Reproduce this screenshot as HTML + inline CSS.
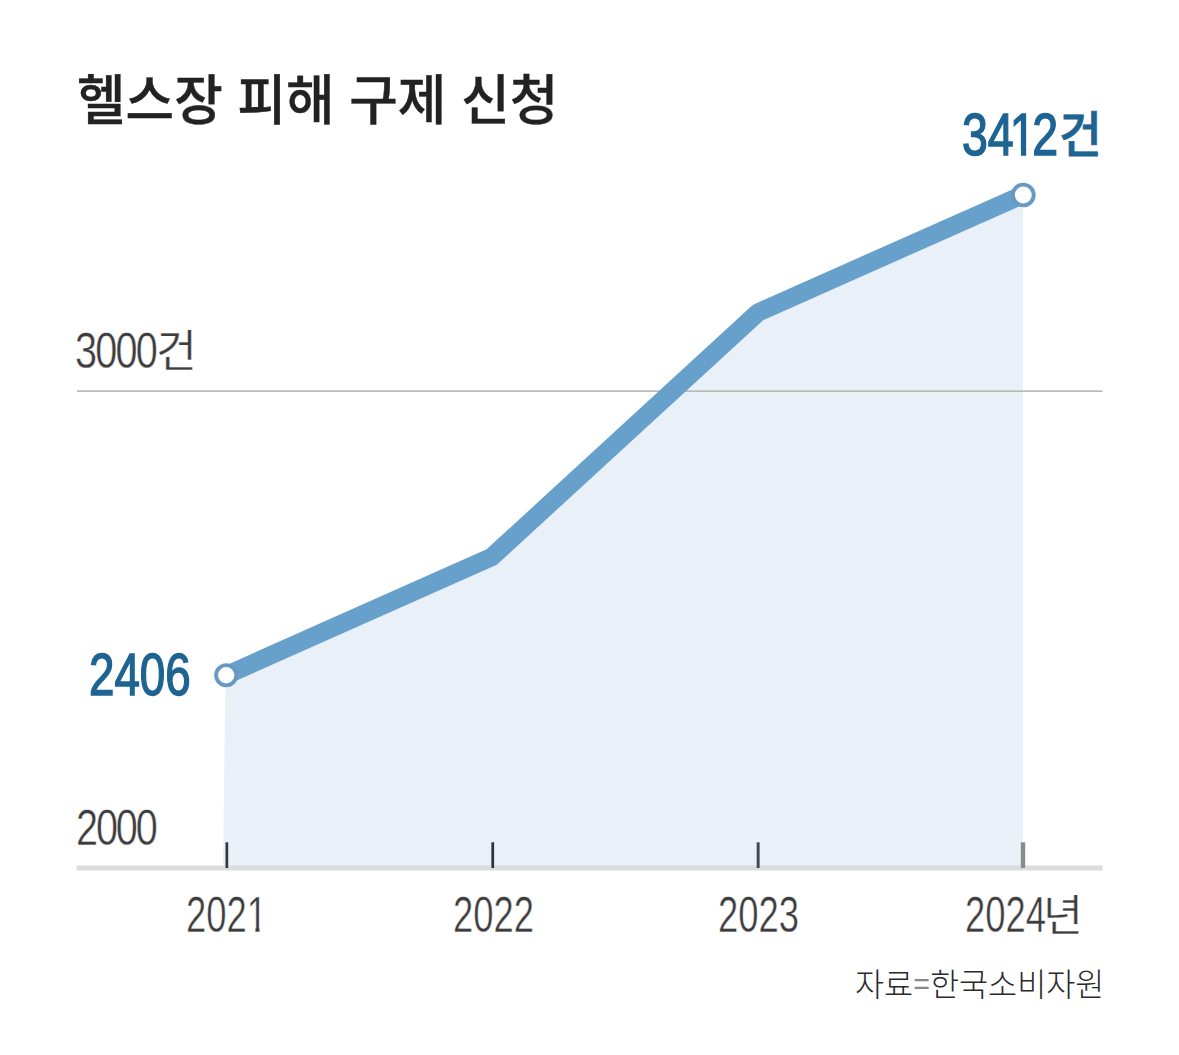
<!DOCTYPE html>
<html lang="ko">
<head>
<meta charset="utf-8">
<title>헬스장 피해 구제 신청</title>
<style>
  html, body { margin: 0; padding: 0; background: #ffffff; }
  body { width: 1179px; height: 1055px; position: relative; overflow: hidden; }
  .t { position: absolute; white-space: nowrap; line-height: 1; transform-origin: 0 0; }
  .num { font-family: "Liberation Sans", "Noto Sans CJK KR", sans-serif; }
  .kr { font-family: "Liberation Sans", "Noto Sans CJK KR", sans-serif; }
  svg { position: absolute; left: 0; top: 0; }
  .one { display: inline-block; line-height: 1; clip-path: polygon(0 0, 0.6em 0, 0.6em 0.745em, 0.35em 0.745em, 0.35em 1.1em, 0.24em 1.1em, 0.24em 0.745em, 0 0.745em); }
</style>
</head>
<body>
<svg width="1179" height="1055" viewBox="0 0 1179 1055">
  <!-- area fill -->
  <polygon points="225.5,675.5 492,556.8 758,312.5 1023,194.7 1023,868 223,868" fill="#e9f0f8"/>
  <!-- 3000 gridline -->
  <rect x="77" y="390.3" width="1025.5" height="1.7" fill="#b9babc"/>
  <!-- x axis -->
  <rect x="76.5" y="865.5" width="1026" height="5" fill="#dbdcde"/>
  <!-- ticks -->
  <rect x="225.5" y="842.3" width="2.7" height="25.7" fill="#35373b"/>
  <rect x="491.4" y="842.3" width="2.7" height="25.7" fill="#2e3136"/>
  <rect x="756.7" y="842.3" width="2.9" height="25.7" fill="#45474b"/>
  <rect x="1020.8" y="842.3" width="4.4" height="25.7" fill="#8a8b8d"/>
  <!-- line -->
  <polyline points="225.5,675.5 492,556.8 758,312.5 1023,194.7" fill="none" stroke="#68a0cc" stroke-width="18.3" stroke-linejoin="round" stroke-linecap="butt"/>
  <!-- end markers -->
  <circle cx="226.2" cy="675.2" r="10.1" fill="#ffffff" stroke="#6699c4" stroke-width="3.8"/>
  <circle cx="1023.3" cy="195" r="10.4" fill="#ffffff" stroke="#6699c4" stroke-width="3.9"/>
</svg>

<div id="title" class="t kr" style="left:77px;top:74px;font-size:54px;font-weight:500;color:#222;-webkit-text-stroke:0.4px #222;transform:scaleX(0.978)">헬스장 피해 구제 신청</div>

<div id="v3412" class="t num" style="left:962px;top:104.5px;font-size:60px;font-weight:400;color:#1d6493;-webkit-text-stroke:1.5px #1d6493;transform:scaleX(0.775)">34<span class="one" style="margin:0 -4.5px 0 -5px">1</span>2</div>
<div id="v3412k" class="t kr" style="left:1058.5px;top:111px;font-size:49px;font-weight:500;color:#1d6493;-webkit-text-stroke:0.8px #1d6493;transform:scaleX(0.95)">건</div>

<div id="y3000" class="t num" style="left:75.2px;top:326.2px;font-size:50.5px;color:#3d3d3d;-webkit-text-stroke:0.45px #fff;letter-spacing:-2.3px;transform:scaleX(0.785)">3000</div>
<div id="y3000k" class="t kr" style="left:156px;top:330px;font-size:44.5px;color:#3d3d3d;-webkit-text-stroke:0.4px #fff;transform:scaleX(1.0)">건</div>

<div id="v2406" class="t num" style="left:89px;top:646px;font-size:59px;font-weight:400;color:#1d6493;-webkit-text-stroke:1.5px #1d6493;transform:scaleX(0.775)">2406</div>

<div id="y2000" class="t num" style="left:76.3px;top:802.7px;font-size:50.5px;color:#3d3d3d;-webkit-text-stroke:0.45px #fff;letter-spacing:-2.7px;transform:scaleX(0.785)">2000</div>

<div id="x2021" class="t num" style="left:186.3px;top:889.5px;font-size:49.2px;color:#3d3d3d;-webkit-text-stroke:0.45px #fff;transform:scaleX(0.74)">202<span class="one">1</span></div>
<div id="x2022" class="t num" style="left:453px;top:889.5px;font-size:49.2px;color:#3d3d3d;-webkit-text-stroke:0.45px #fff;transform:scaleX(0.74)">2022</div>
<div id="x2023" class="t num" style="left:718px;top:889.5px;font-size:49.2px;color:#3d3d3d;-webkit-text-stroke:0.45px #fff;transform:scaleX(0.74)">2023</div>
<div id="x2024" class="t num" style="left:964.5px;top:889.5px;font-size:49.2px;color:#3d3d3d;-webkit-text-stroke:0.45px #fff;transform:scaleX(0.74)">2024</div>
<div id="x2024k" class="t kr" style="left:1043px;top:894.5px;font-size:43px;color:#3d3d3d;-webkit-text-stroke:0.4px #fff;transform:scaleX(1.01)">년</div>

<div id="src" class="t kr" style="left:855px;top:969px;font-size:32px;font-weight:300;color:#2a2a2a;transform:scaleX(0.988)">자료<span style="position:relative;top:-2.5px;font-size:29px;color:#8a8a8a">=</span>한국소비자원</div>
</body>
</html>
